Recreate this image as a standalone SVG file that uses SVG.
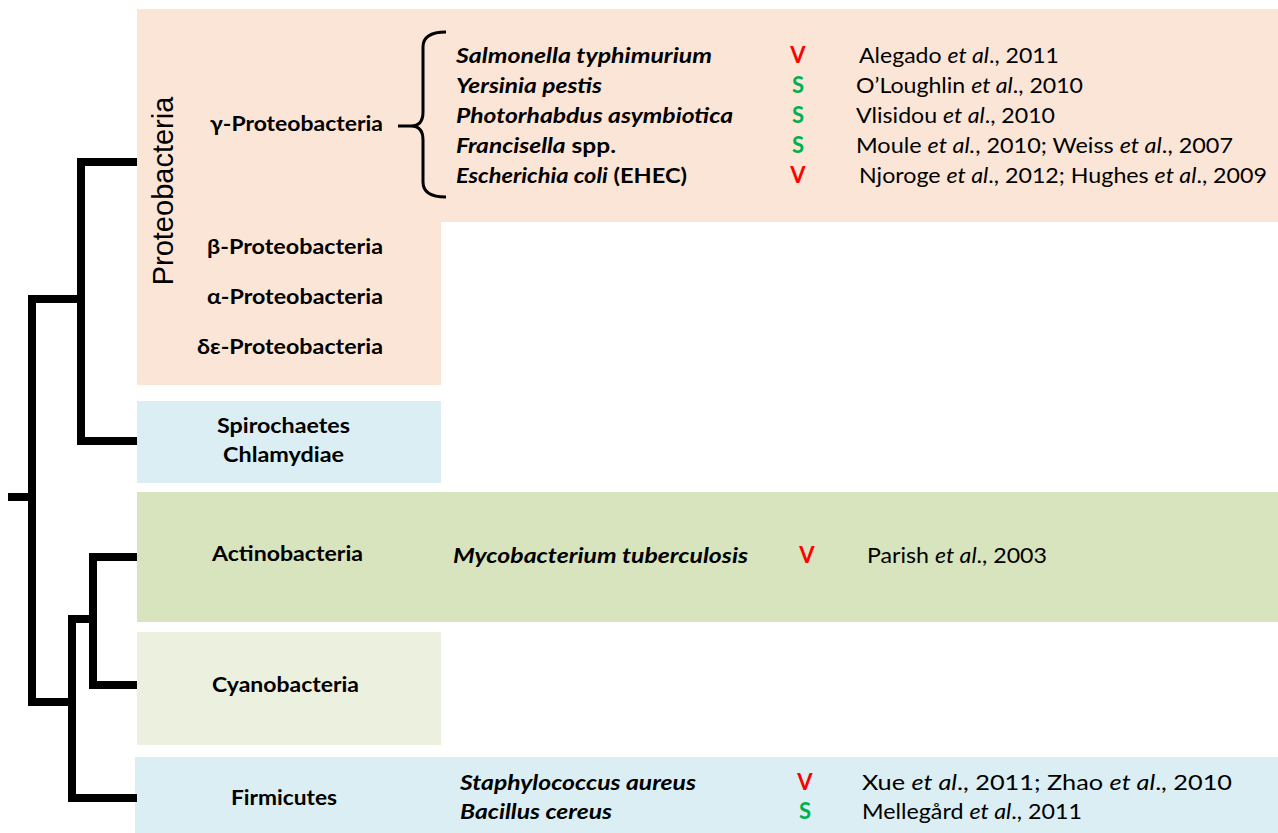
<svg xmlns="http://www.w3.org/2000/svg" width="1278" height="833" viewBox="0 0 1278 833">
<style>
.lbl{font-family:Lato,"Liberation Sans",sans-serif;font-weight:bold;font-size:21px;fill:#000}
.sp{font-family:Lato,"Liberation Sans",sans-serif;font-weight:bold;font-style:italic;font-size:21px;fill:#000}
.up{font-style:normal}
.ref{font-family:Lato,"Liberation Sans",sans-serif;font-size:21px;fill:#000}
.it{font-style:italic}
.mk{font-family:Lato,"Liberation Sans",sans-serif;font-weight:bold;font-size:22px;text-anchor:middle}
.v{fill:#ff0000}
.s{fill:#00b050}
.tree{fill:none;stroke:#000;stroke-width:8;stroke-linejoin:miter;stroke-linecap:butt}
.brace{fill:none;stroke:#000;stroke-width:3}
</style>
<rect width="1278" height="833" fill="#fff"/>

<g id="proteobacteria">
<path d="M137,9 H1278 V222 H441 V385 H137 Z" fill="#fbe5d6"/>
<text x="173" y="191" transform="rotate(-90 173 191)" text-anchor="middle" font-family="'Liberation Sans',Arial,sans-serif" font-size="29">Proteobacteria</text>
<text class="lbl" x="210" y="131" textLength="173" lengthAdjust="spacingAndGlyphs">γ-Proteobacteria</text>
<text class="lbl" x="207" y="254" textLength="176" lengthAdjust="spacingAndGlyphs">β-Proteobacteria</text>
<text class="lbl" x="207" y="304" textLength="176" lengthAdjust="spacingAndGlyphs">α-Proteobacteria</text>
<text class="lbl" x="197" y="354" textLength="186" lengthAdjust="spacingAndGlyphs">δε-Proteobacteria</text>
<path class="brace" d="M446,32 Q423,32 423,47 L423,112 Q423,126 411,126 Q423,126 423,140 L423,182 Q423,197 446,197 M398,126 H412"/>
<text class="sp" x="456" y="63" textLength="256" lengthAdjust="spacingAndGlyphs">Salmonella typhimurium</text>
<text class="sp" x="456" y="93" textLength="146" lengthAdjust="spacingAndGlyphs">Yersinia pestis</text>
<text class="sp" x="456" y="123" textLength="277" lengthAdjust="spacingAndGlyphs">Photorhabdus asymbiotica</text>
<text class="sp" x="456" y="153" textLength="160" lengthAdjust="spacingAndGlyphs">Francisella<tspan class="up"> spp.</tspan></text>
<text class="sp" x="456" y="183" textLength="231" lengthAdjust="spacingAndGlyphs">Escherichia coli<tspan class="up"> (EHEC)</tspan></text>
<text class="mk v" x="798" y="63">V</text>
<text class="mk s" x="798" y="93">S</text>
<text class="mk s" x="798" y="123">S</text>
<text class="mk s" x="798" y="153">S</text>
<text class="mk v" x="798" y="183">V</text>
<text class="ref" x="859" y="63" textLength="200" lengthAdjust="spacingAndGlyphs">Alegado <tspan class="it">et al</tspan>., 2011</text>
<text class="ref" x="856" y="93" textLength="227" lengthAdjust="spacingAndGlyphs">O’Loughlin <tspan class="it">et al</tspan>., 2010</text>
<text class="ref" x="856" y="123" textLength="199" lengthAdjust="spacingAndGlyphs">Vlisidou <tspan class="it">et al</tspan>., 2010</text>
<text class="ref" x="856" y="153" textLength="377" lengthAdjust="spacingAndGlyphs">Moule <tspan class="it">et al.</tspan>, 2010; Weiss <tspan class="it">et al</tspan>., 2007</text>
<text class="ref" x="859" y="183" textLength="408" lengthAdjust="spacingAndGlyphs">Njoroge <tspan class="it">et al</tspan>., 2012; Hughes <tspan class="it">et al</tspan>., 2009</text>
</g>

<g id="spirochaetes">
<rect x="137" y="401" width="304" height="82" fill="#daeef3"/>
<text class="lbl" x="217" y="433" textLength="133" lengthAdjust="spacingAndGlyphs">Spirochaetes</text>
<text class="lbl" x="223" y="462" textLength="121" lengthAdjust="spacingAndGlyphs">Chlamydiae</text>
</g>

<g id="actinobacteria">
<rect x="137" y="492" width="1141" height="130" fill="#d7e4bd"/>
<text class="lbl" x="212" y="561" textLength="151" lengthAdjust="spacingAndGlyphs">Actinobacteria</text>
<text class="sp" x="453" y="563" textLength="295" lengthAdjust="spacingAndGlyphs">Mycobacterium tuberculosis</text>
<text class="mk v" x="807" y="563">V</text>
<text class="ref" x="867" y="563" textLength="180" lengthAdjust="spacingAndGlyphs">Parish <tspan class="it">et al</tspan>., 2003</text>
</g>

<g id="cyanobacteria">
<rect x="137" y="632" width="304" height="113" fill="#ebf1de"/>
<text class="lbl" x="212" y="692" textLength="147" lengthAdjust="spacingAndGlyphs">Cyanobacteria</text>
</g>

<g id="firmicutes">
<rect x="135" y="757" width="1143" height="76" fill="#daeef3"/>
<text class="lbl" x="231" y="805" textLength="106" lengthAdjust="spacingAndGlyphs">Firmicutes</text>
<text class="sp" x="460" y="790" textLength="236" lengthAdjust="spacingAndGlyphs">Staphylococcus aureus</text>
<text class="sp" x="460" y="819" textLength="152" lengthAdjust="spacingAndGlyphs">Bacillus cereus</text>
<text class="mk v" x="805" y="790">V</text>
<text class="mk s" x="805" y="819">S</text>
<text class="ref" x="862" y="790" textLength="370" lengthAdjust="spacingAndGlyphs">Xue <tspan class="it">et al</tspan>., 2011; Zhao <tspan class="it">et al</tspan>., 2010</text>
<text class="ref" x="862" y="819" textLength="220" lengthAdjust="spacingAndGlyphs">Mellegård <tspan class="it">et al</tspan>., 2011</text>
</g>

<g id="connectors">
<path class="tree" d="M137,162 H81 V441 H137"/>
<path class="tree" d="M81,299 H32 V702 H72"/>
<path class="tree" d="M8,497 H32"/>
<path class="tree" d="M137,798 H72 V619 H93"/>
<path class="tree" d="M137,557 H93 V685 H137"/>
</g>
</svg>
